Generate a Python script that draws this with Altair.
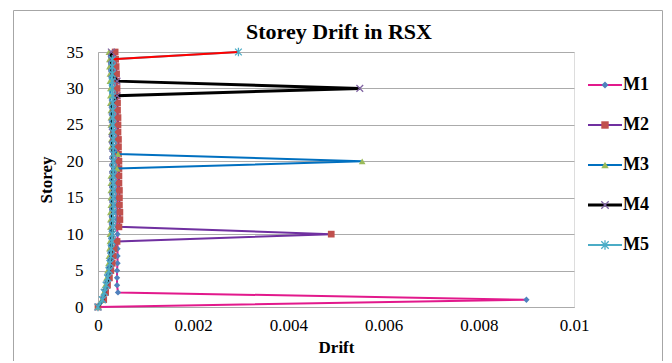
import altair as alt
import pandas as pd

# ---------------- data ----------------
storeys = list(range(36))
series_names = ["M1", "M2", "M3", "M4", "M5"]

m1 = [0, 0.0090, 0.00042, 0.00040, 0.00040, 0.00040, 0.00041, 0.00041, 0.00041, 0.00041,
      0.00041, 0.00040, 0.00040, 0.00040, 0.00040, 0.00040, 0.00040, 0.00040, 0.00039, 0.00039,
      0.00039, 0.00039, 0.00038, 0.00038, 0.00038, 0.00037, 0.00037, 0.00037, 0.00036, 0.00036,
      0.00035, 0.00035, 0.00034, 0.00034, 0.00033, 0.00032]
m2 = [0, 0.00012, 0.00016, 0.00020, 0.00024, 0.00027, 0.00030, 0.00032, 0.00034, 0.00040,
      0.0049, 0.00044, 0.00046, 0.00046, 0.00045, 0.00045, 0.00045, 0.00044, 0.00044, 0.00044,
      0.00044, 0.00043, 0.00043, 0.00043, 0.00042, 0.00042, 0.00042, 0.00041, 0.00041, 0.00040,
      0.00040, 0.00039, 0.00039, 0.00038, 0.00037, 0.00036]
m3 = [0, 0.00008, 0.00012, 0.00015, 0.00018, 0.00020, 0.00022, 0.00023, 0.00024, 0.00025,
      0.00025, 0.00026, 0.00026, 0.00026, 0.00027, 0.00027, 0.00027, 0.00027, 0.00027, 0.00040,
      0.00555, 0.00042, 0.00028, 0.00028, 0.00028, 0.00027, 0.00027, 0.00027, 0.00026, 0.00026,
      0.00026, 0.00025, 0.00025, 0.00024, 0.00024, 0.00023]
m4 = [0, 0.00010, 0.00014, 0.00018, 0.00021, 0.00024, 0.00026, 0.00027, 0.00028, 0.00029,
      0.00030, 0.00030, 0.00030, 0.00031, 0.00031, 0.00031, 0.00031, 0.00031, 0.00031, 0.00031,
      0.00031, 0.00031, 0.00031, 0.00030, 0.00030, 0.00030, 0.00030, 0.00030, 0.00030, 0.00040,
      0.0055, 0.00040, 0.00029, 0.00029, 0.00028, 0.00028]
m5 = [0, 0.00009, 0.00013, 0.00017, 0.00020, 0.00023, 0.00025, 0.00027, 0.00028, 0.00029,
      0.00030, 0.00031, 0.00031, 0.00032, 0.00032, 0.00032, 0.00032, 0.00032, 0.00032, 0.00032,
      0.00032, 0.00032, 0.00032, 0.00032, 0.00032, 0.00031, 0.00031, 0.00031, 0.00031, 0.00031,
      0.00030, 0.00030, 0.00030, 0.00030, 0.00030, 0.00295]

drift_ticks = [0, 0.002, 0.004, 0.006, 0.008, 0.01]
storey_ticks = [0, 5, 10, 15, 20, 25, 30, 35]
chart_title = ["Storey Drift in RSX"]

rows = []
for name, vals in zip(series_names, [m1, m2, m3, m4, m5]):
    for s, v in zip(storeys, vals):
        rows.append({"series": name, "storey": s, "drift": v})
df = pd.DataFrame(rows)
legend_df = pd.DataFrame({"series": series_names})

# ---------------- styles ----------------
W, H = 476, 255
FONT = "Liberation Serif"
GRID = "#ABABAB"

line_color = {"M1": "#E2198C", "M2": "#7030A0", "M3": "#0070C0", "M4": "#000000", "M5": "#4BACC6"}
line_width = {"M1": 2, "M2": 2, "M3": 2, "M4": 3, "M5": 2}
marker_color = {"M1": "#4F81BD", "M2": "#C0504D", "M3": "#9BBB59", "M4": "#8064A2", "M5": "#4BACC6"}
X_PATH = "M-1,-1L1,1M-1,1L1,-1"
STAR_PATH = "M-1,-1L1,1M-1,1L1,-1M0,-1.3L0,1.3"
marker_shape = {"M1": "diamond", "M2": "square", "M3": "triangle-up", "M4": X_PATH, "M5": STAR_PATH}
marker_filled = {"M1": True, "M2": True, "M3": True, "M4": False, "M5": False}
marker_size = {"M1": 40, "M2": 45, "M3": 45, "M4": 45, "M5": 45}

x_enc = alt.X(
    "drift:Q",
    scale=alt.Scale(domain=[0, 0.01], nice=False),
    axis=alt.Axis(values=drift_ticks, format=".3~f", title="Drift", grid=False,
                  ticks=False, labelPadding=10, titlePadding=6, labelFlush=False,
                  domainColor=GRID, labelFont=FONT, labelFontSize=17, labelColor="#000",
                  titleFont=FONT, titleFontSize=17, titleFontWeight="bold", titleColor="#000"),
)
y_enc = alt.Y(
    "storey:Q",
    scale=alt.Scale(domain=[0, 35], nice=False),
    axis=alt.Axis(values=storey_ticks, title="Storey", grid=True, gridColor=GRID,
                  ticks=False, labelPadding=15, titlePadding=11, labelFlush=False,
                  domainColor=GRID, labelFont=FONT, labelFontSize=17, labelColor="#000",
                  titleFont=FONT, titleFontSize=17, titleFontWeight="bold", titleColor="#000"),
)

base = alt.Chart(df).encode(x=x_enc, y=y_enc, order=alt.Order("storey:Q"))

main_layers = []
for name in series_names:
    sub = base.transform_filter(alt.datum.series == name)
    main_layers.append(
        sub.mark_line(color=line_color[name], strokeWidth=line_width[name])
    )
    if name == "M5":
        main_layers.append(
            sub.transform_filter(alt.datum.storey >= 34)
            .mark_line(color="#FF0000", strokeWidth=2)
        )
    if marker_filled[name]:
        pt = sub.mark_point(shape=marker_shape[name], filled=True, fill=marker_color[name],
                            opacity=1, size=marker_size[name], strokeWidth=0)
    else:
        pt = sub.mark_point(shape=marker_shape[name], filled=False, stroke=marker_color[name],
                            opacity=1, size=marker_size[name], strokeWidth=1.3)
    main_layers.append(pt)

main = alt.layer(*main_layers)

# ---------------- legend ----------------
leg_y = alt.Y("series:N",
              scale=alt.Scale(type="point", domain=series_names, range=[33, 193],
                              padding=0, paddingOuter=0),
              axis=None)
leg_base = alt.Chart(legend_df).encode(y=leg_y)
leg_layers = []
for name in series_names:
    sub = leg_base.transform_filter(alt.datum.series == name)
    leg_layers.append(sub.mark_rule(color=line_color[name], strokeWidth=line_width[name])
                      .encode(x=alt.value(490), x2=alt.value(524)))
    if marker_filled[name]:
        pt = sub.mark_point(shape=marker_shape[name], filled=True, fill=marker_color[name],
                            opacity=1, size=marker_size[name] + 10, strokeWidth=0)
    else:
        pt = sub.mark_point(shape=marker_shape[name], filled=False, stroke=marker_color[name],
                            opacity=1, size=marker_size[name] + 10, strokeWidth=1.3)
    leg_layers.append(pt.encode(x=alt.value(507)))
leg_layers.append(
    leg_base.mark_text(align="left", baseline="middle", font=FONT, fontSize=18,
                       fontWeight="bold", color="#000")
    .encode(x=alt.value(525), text="series:N")
)
legend = alt.layer(*leg_layers)

# chart frame and title
frame = alt.Chart(pd.DataFrame({"k": [0]})).mark_rect(
    filled=False, stroke="#A6A6A6", strokeWidth=1
).encode(x=alt.value(-84.5), x2=alt.value(564.5), y=alt.value(-41.5), y2=alt.value(330))

title = alt.Chart(pd.DataFrame({"title": chart_title})).mark_text(
    font=FONT, fontSize=22, fontWeight="bold", color="#000", align="center", baseline="middle"
).encode(x=alt.value(W / 2 + 3), y=alt.value(-20), text="title:N")

chart = (
    alt.layer(frame, title, main, legend)
    .resolve_scale(y="independent")
    .properties(
        width=W, height=H,
        autosize=alt.AutoSizeParams(type="none"),
        padding={"left": 90, "top": 44, "right": 90, "bottom": 54},
    )
    .configure_view(strokeWidth=0)
    .configure(background="white")
)

chart.save("out.html", embed_options={"renderer": "svg", "actions": False})
